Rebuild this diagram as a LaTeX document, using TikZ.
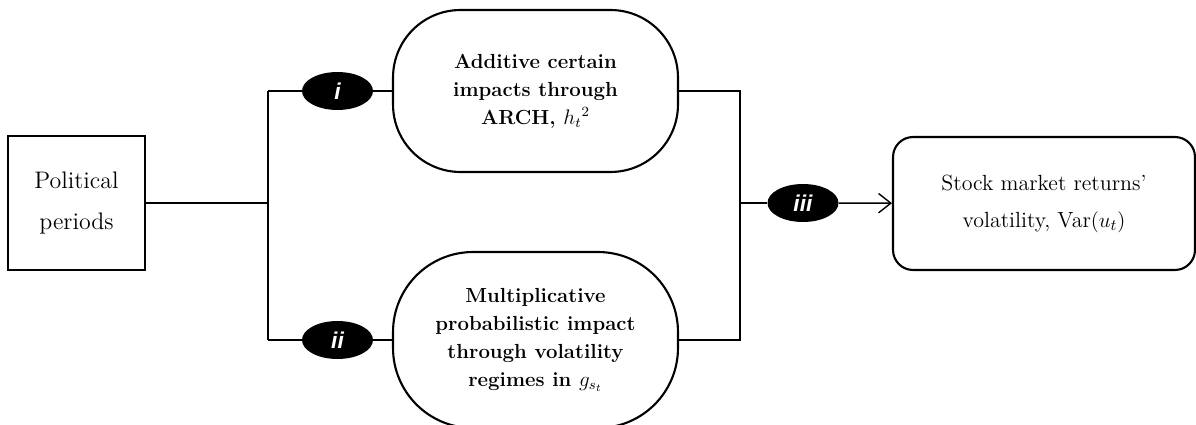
\documentclass[tikz,border=0pt]{standalone}
\usepackage{fontspec}
\setsansfont{Liberation Sans}
\usetikzlibrary{shapes.geometric,arrows.meta}

\tikzset{
  box/.style={draw, line width=1.2pt, align=center, inner sep=0pt},
  pill/.style={box, rounded corners=1.35cm, font=\fontsize{11.6}{16}\selectfont\bfseries},
  tag/.style={ellipse, fill=black, text=white, inner sep=0pt,
    minimum width=1.42cm, minimum height=0.76cm,
    font=\sffamily\bfseries\itshape\fontsize{13}{15}\selectfont},
  link/.style={line width=0.8pt}
}

\begin{document}
\begin{tikzpicture}[x=0.02cm, y=-0.02cm]
        \useasboundingbox (0,0) rectangle (1196,425);
        \fontsize{12.5}{16}\selectfont
        % boxes
        \node[box, minimum width=2.74cm, minimum height=2.68cm, font=\fontsize{13.6}{16}\selectfont] (pol) at (76.5,203) {Political\\[7.8pt]periods};
        \node[pill, minimum width=5.7cm, minimum height=3.24cm] (add) at (535.5,91) {Additive certain\\impacts through\\ARCH, $h_t{}^2$};
        \node[pill, rounded corners=1.6cm, minimum width=5.7cm, minimum height=3.52cm] (mult) at (535.5,340) {Multiplicative\\probabilistic impact\\through volatility\\regimes in $g_{s_t}$};
        \node[box, rounded corners=0.4cm, minimum width=6.04cm, minimum height=2.66cm] (vol) at (1044,203.5) {Stock market returns'\\[5pt]volatility, Var$(u_t)$};
        % labels
        \node[tag] (ti) at (337.5,91) {i};
        \node[tag] (tii) at (337.5,340) {ii};
        \node[tag] (tiii) at (803,203) {iii};
        % junctions
        \coordinate (ja) at (268,91);
        \coordinate (jb) at (268,340);
        \coordinate (jc) at (268,203);
        \coordinate (ka) at (740,91);
        \coordinate (kb) at (740,340);
        \coordinate (kc) at (740,203);
        % connectors
        \draw[link] (pol) -- (jc);
        \draw[link] (ja) -- (jb);
        \draw[link] (ja) -- (ti) -- (add);
        \draw[link] (jb) -- (tii) -- (mult);
        \draw[link] (add) -- (ka) -- (kb) -- (mult);
        \draw[link] (kc) -- (tiii);
        \draw[link, -{Straight Barb[length=7pt, width=11pt]}] (tiii) -- (vol);
    \end{tikzpicture}
\end{document}
